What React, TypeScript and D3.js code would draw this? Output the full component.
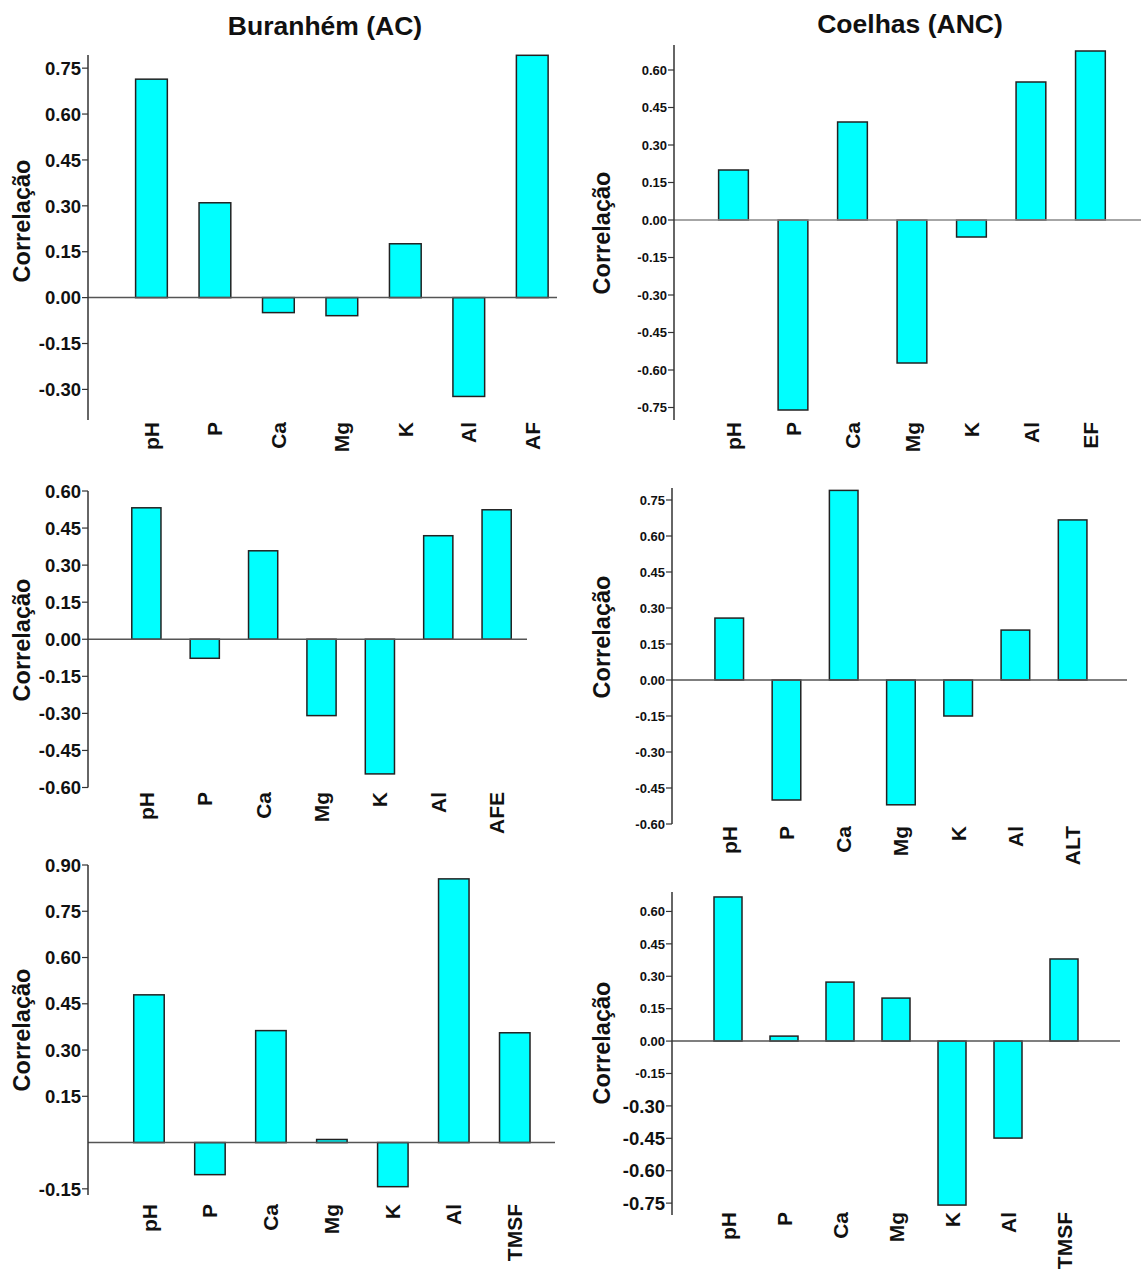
import React from 'react';
import * as d3 from 'd3';

// soil variables on the x axis (last one changes per panel)
const soilVars = ['pH', 'P', 'Ca', 'Mg', 'K', 'Al'];

// correlation values
const buranhemAF = [0.714, 0.31, -0.049, -0.059, 0.176, -0.323, 0.792];
const coelhasEF = [0.2, -0.76, 0.392, -0.572, -0.068, 0.552, 0.676];
const buranhemAFE = [0.532, -0.077, 0.358, -0.309, -0.545, 0.419, 0.524];
const coelhasALT = [0.258, -0.5, 0.79, -0.52, -0.15, 0.208, 0.667];
const buranhemTMSF = [0.479, -0.104, 0.363, 0.01, -0.143, 0.855, 0.356];
const coelhasTMSF = [0.667, 0.023, 0.273, 0.199, -0.759, -0.449, 0.38];

// tick labels
const ticksBurAF = [0.75, 0.6, 0.45, 0.3, 0.15, 0, -0.15, -0.3];
const ticksCoeEF = [0.6, 0.45, 0.3, 0.15, 0, -0.15, -0.3, -0.45, -0.6, -0.75];
const ticksBurAFE = [0.6, 0.45, 0.3, 0.15, 0, -0.15, -0.3, -0.45, -0.6];
const ticksCoeALT = [0.75, 0.6, 0.45, 0.3, 0.15, 0, -0.15, -0.3, -0.45, -0.6];
const ticksBurTMSF = [0.9, 0.75, 0.6, 0.45, 0.3, 0.15, -0.15];
const ticksCoeTMSF = [0.6, 0.45, 0.3, 0.15, 0, -0.15, -0.3, -0.45, -0.6, -0.75];

const titles = [
	{ text: 'Buranhém (AC)', x: 325, y: 35 },
	{ text: 'Coelhas (ANC)', x: 910, y: 33 },
];

const FONT = '"Liberation Sans", Arial, Helvetica, sans-serif';

// layout of each panel (pixels)
const panels = [
	{ values: buranhemAF, last: 'AF', ticks: ticksBurAF, axisX: 88, endX: 557, xMax: 7.39,
		yDomain: [-0.4, 0.793], yRange: [420, 55], tickFont: 18.5, bigFrom: null, labelY: 422, yLab: [22, 221], zeroColor: '#555' },
	{ values: coelhasEF, last: 'EF', ticks: ticksCoeEF, axisX: 674, endX: 1141, xMax: 7.85,
		yDomain: [-0.8, 0.7], yRange: [420, 45], tickFont: 13, bigFrom: null, labelY: 422, yLab: [602, 233], zeroColor: '#888' },
	{ values: buranhemAFE, last: 'AFE', ticks: ticksBurAFE, axisX: 88, endX: 527, xMax: 7.52,
		yDomain: [-0.6, 0.6], yRange: [787.5, 491], tickFont: 18.5, bigFrom: null, labelY: 792, yLab: [22, 640], zeroColor: '#555' },
	{ values: coelhasALT, last: 'ALT', ticks: ticksCoeALT, axisX: 672, endX: 1127, xMax: 7.95,
		yDomain: [-0.6, 0.8], yRange: [824, 488], tickFont: 13, bigFrom: null, labelY: 826, yLab: [602, 637], zeroColor: '#555' },
	{ values: buranhemTMSF, last: 'TMSF', ticks: ticksBurTMSF, axisX: 88, endX: 555, xMax: 7.66,
		yDomain: [-0.17, 0.9], yRange: [1195, 865], tickFont: 18.5, bigFrom: null, labelY: 1204, yLab: [22, 1030], zeroColor: '#555' },
	{ values: coelhasTMSF, last: 'TMSF', ticks: ticksCoeTMSF, axisX: 672, endX: 1120, xMax: 8.0,
		yDomain: [-0.805, 0.69], yRange: [1215, 892], tickFont: 13, bigFrom: -0.3, labelY: 1212, yLab: [602, 1043], zeroColor: '#555' },
];

const fmt = (v) => v.toFixed(2);

function Panel({ p }) {
	const y = d3.scaleLinear().domain(p.yDomain).range(p.yRange);
	const x = d3.scaleLinear().domain([0, p.xMax]).range([p.axisX, p.endX]);
	const cats = [...soilVars, p.last];

	return (
		<g>
			{/* bars */}
			{p.values.map((v, i) => {
				const x0 = x(i + 1 - 0.25), x1 = x(i + 1 + 0.25);
				const top = y(Math.max(0, v)), bot = y(Math.min(0, v));
				return <rect key={i} x={x0} y={top} width={x1 - x0} height={bot - top}
					fill="#00ffff" stroke="#222" strokeWidth={1.5} />;
			})}
			{/* zero line */}
			<line x1={p.axisX} x2={p.endX} y1={y(0)} y2={y(0)} stroke={p.zeroColor} strokeWidth={1.5} />
			{/* y axis */}
			<line x1={p.axisX} x2={p.axisX} y1={p.yRange[1]} y2={p.yRange[0]} stroke="#333" strokeWidth={1.5} />
			{p.ticks.map((t) => {
				const big = p.bigFrom != null && t <= p.bigFrom + 1e-9;
				return (
					<g key={t} transform={`translate(${p.axisX},${y(t)})`}>
						<line x1={-6} x2={0} stroke="#333" strokeWidth={1.2} />
						<text x={-7} dy="0.36em" textAnchor="end" fontFamily={FONT} fontWeight="bold"
							fontSize={big ? 18.5 : p.tickFont} fill="#111">{fmt(t)}</text>
					</g>
				);
			})}
			{/* x labels */}
			{cats.map((c, i) => (
				<text key={c} transform={`translate(${x(i + 1)},${p.labelY}) rotate(-90)`} dy="0.36em"
					textAnchor="end" fontFamily={FONT} fontWeight="bold" fontSize={21} fill="#111">{c}</text>
			))}
			{/* y label */}
			<text transform={`translate(${p.yLab[0]},${p.yLab[1]}) rotate(-90)`} dy="0.36em" textAnchor="middle"
				fontFamily={FONT} fontWeight="bold" fontSize={23.5} fill="#111">Correlação</text>
		</g>
	);
}

export default function App() {
	return (
		<svg width={1141} height={1270} style={{ position: 'absolute', left: 0, top: 0, background: '#fff' }}>
			<rect width={1141} height={1270} fill="#fff" />
			{titles.map((t) => (
				<text key={t.text} x={t.x} y={t.y} textAnchor="middle" fontFamily={FONT} fontWeight="bold"
					fontSize={26.5} fill="#111">{t.text}</text>
			))}
			{panels.map((p, i) => <Panel key={i} p={p} />)}
		</svg>
	);
}
